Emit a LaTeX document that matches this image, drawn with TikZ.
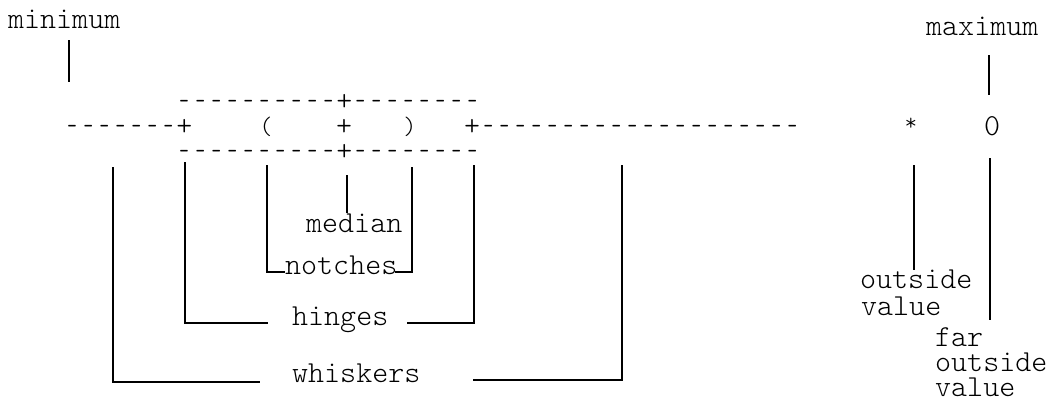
\documentclass[tikz,border=0pt]{standalone}
\usepackage{fontspec}
\usepackage{graphicx}
\newfontfamily\typewriter{Latin Modern Mono Light}
% one hyphen in a full character cell, shortened so neighbours stay apart
\newcommand\hy{\makebox[0.525em]{\scalebox{0.62}[1]{-}}}
\newcommand\dashrun[1]{\foreach \i in {1,...,#1}{\hy}}
\begin{document}
\begin{tikzpicture}[x=1pt,y=-1pt,
  txt/.style={font=\typewriter\fontsize{30.5}{30.5}\selectfont, inner sep=0pt,
    anchor=base west, text height=19pt, text depth=4pt},
  rowtxt/.style={txt, text height=12pt, text depth=3pt},
  mark glyph/.style={rowtxt, anchor=base},
  notch glyph/.style={rowtxt, anchor=center, font=\typewriter\fontsize{25}{25}\selectfont,
    text height=10pt, text depth=2pt},
  rule/.style={line width=1.3pt, line cap=butt, line join=miter}]
\useasboundingbox (0,0) rectangle (1057,402);

% ---- the box plot itself, as typed characters ----
\node[rowtxt] (toprow) at (176,110) {\dashrun{10}+\dashrun{8}};
\node[rowtxt] (lwhisk) at (64,135) {\dashrun{7}+};
\node[notch glyph] (lnotch) at (266,130) {(};
\node[rowtxt] (mid) at (336,135) {+};
\node[notch glyph] (rnotch) at (410,130) {)};
\node[rowtxt] (rwhisk) at (464,135) {+\dashrun{20}};
\node[rowtxt, anchor=center, font=\typewriter\fontsize{24}{24}\selectfont, text height=6pt, text depth=0pt]
  (outv) at (911,127) {*};
\node[mark glyph] (faroutv) at (992,135) {0};
\node[rowtxt] (botrow) at (176,160) {\dashrun{10}+\dashrun{8}};

% ---- labels ----
\node[txt] (minimum) at (8,28) {minimum};
\node[txt] (maximum) at (926,35) {maximum};
\node[txt] (median) at (306,232) {median};
\node[txt] (notches) at (285,274) {notches};
\node[txt] (hinges) at (292,325) {hinges};
\node[txt] (whiskers) at (292,382) {whiskers};
\node[txt] (outside1) at (860,288) {outside};
\node[txt] (value1) at (861,315) {value};
\node[txt] (far2) at (935,346) {far};
\node[txt] (outside2) at (935,371) {outside};
\node[txt, text depth=2pt] (value2) at (935,396) {value};

% ---- pointer ends ----
\coordinate (minTop) at (69,40);   \coordinate (minBot) at (69,82);
\coordinate (maxTop) at (989,55);  \coordinate (maxBot) at (989,95);
\coordinate (medTop) at (347,175); \coordinate (medBot) at (347,213);
\coordinate (owTop) at (914,165);  \coordinate (owBot) at (914,270);
\coordinate (fwTop) at (990,158);  \coordinate (fwBot) at (990,320);

\coordinate (wL1) at (113,167); \coordinate (wL2) at (113,382); \coordinate (wL3) at (260,382);
\coordinate (wR1) at (473,380); \coordinate (wR2) at (622,380); \coordinate (wR3) at (622,165);
\coordinate (hL1) at (185,162); \coordinate (hL2) at (185,323); \coordinate (hL3) at (268,323);
\coordinate (hR1) at (407,323); \coordinate (hR2) at (474,323); \coordinate (hR3) at (474,165);
\coordinate (nL1) at (267,165); \coordinate (nL2) at (267,272); \coordinate (nL3) at (285,272);
\coordinate (nR1) at (395,272); \coordinate (nR2) at (412,272); \coordinate (nR3) at (412,167);

% ---- pointers ----
\draw[rule] (minTop) -- (minBot);
\draw[rule] (maxTop) -- (maxBot);
\draw[rule] (medTop) -- (medBot);
\draw[rule] (owTop) -- (owBot);
\draw[rule] (fwTop) -- (fwBot);
\draw[rule] (wL1) -- (wL2) -- (wL3);
\draw[rule] (wR1) -- (wR2) -- (wR3);
\draw[rule] (hL1) -- (hL2) -- (hL3);
\draw[rule] (hR1) -- (hR2) -- (hR3);
\draw[rule] (nL1) -- (nL2) -- (nL3);
\draw[rule] (nR1) -- (nR2) -- (nR3);
\end{tikzpicture}
\end{document}
